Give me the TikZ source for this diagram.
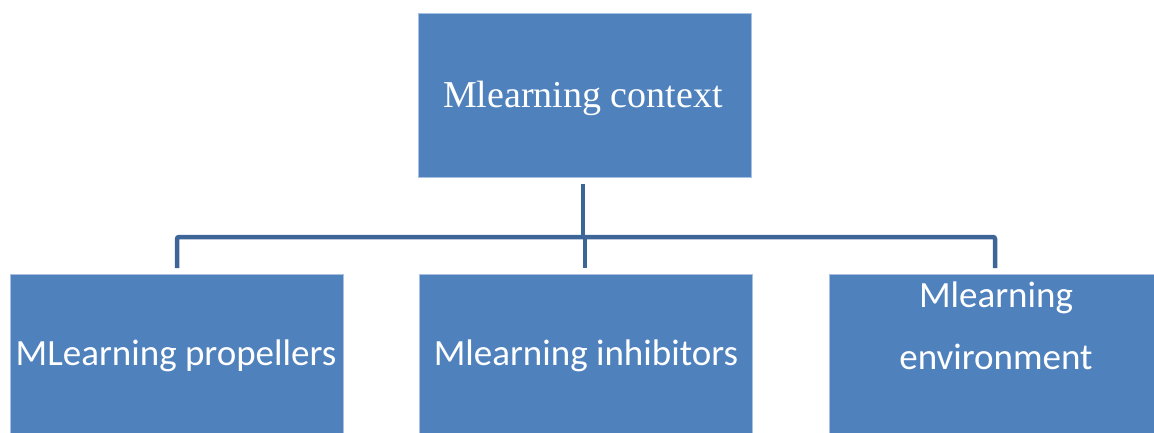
\documentclass[tikz,border=0pt]{standalone}
\usepackage{fontspec}
\setmainfont{Liberation Serif}
\newfontfamily\boxfont{Carlito}
\begin{document}
\begin{tikzpicture}[x=1pt,y=-1pt,
  box/.style={draw=boxedge, line width=1pt, fill=boxfill, text=white,
    minimum width=333pt, minimum height=164pt, inner sep=0pt, anchor=north west},
  label/.style={text=white, inner sep=0pt, font=\boxfont\fontsize{37}{42}\selectfont},
  link/.style={draw=linkcol, line width=4.5pt, rounded corners=2pt}]
\definecolor{boxfill}{HTML}{4F81BD}
\definecolor{boxedge}{HTML}{A8C1E2}
\definecolor{linkcol}{HTML}{3E6597}
\useasboundingbox (0,0) rectangle (1154,432);
\clip (0,0) rectangle (1154,432);
% boxes
\node[box] (ctx) at (418,13) {};
\node[box] (prop) at (10,274) {};
\node[box] (inh) at (419,274) {};
\node[box] (env) at (829,274) {};
% labels
\node[label, font=\rmfamily\fontsize{38}{42}\selectfont] (tctx) at (583,98) {Mlearning context};
\node[label] (tprop) at (176,356) {MLearning propellers};
\node[label] (tinh) at (586,356) {Mlearning inhibitors};
\node[label] (tenv1) at (996,298) {Mlearning};
\node[label] (tenv2) at (996,357) {environment};
% connectors
\coordinate (bus) at (583,237);
\coordinate (busmid) at (585,237);
\draw[link] ([yshift=-6pt]ctx.south -| bus) -- (bus);
\draw[link] ([yshift=6pt]prop.north -| 177,0) |- (bus) -| ([yshift=6pt]env.north -| 995,0);
\draw[link] (busmid) -- ([yshift=6pt]inh.north -| busmid);
\end{tikzpicture}
\end{document}
